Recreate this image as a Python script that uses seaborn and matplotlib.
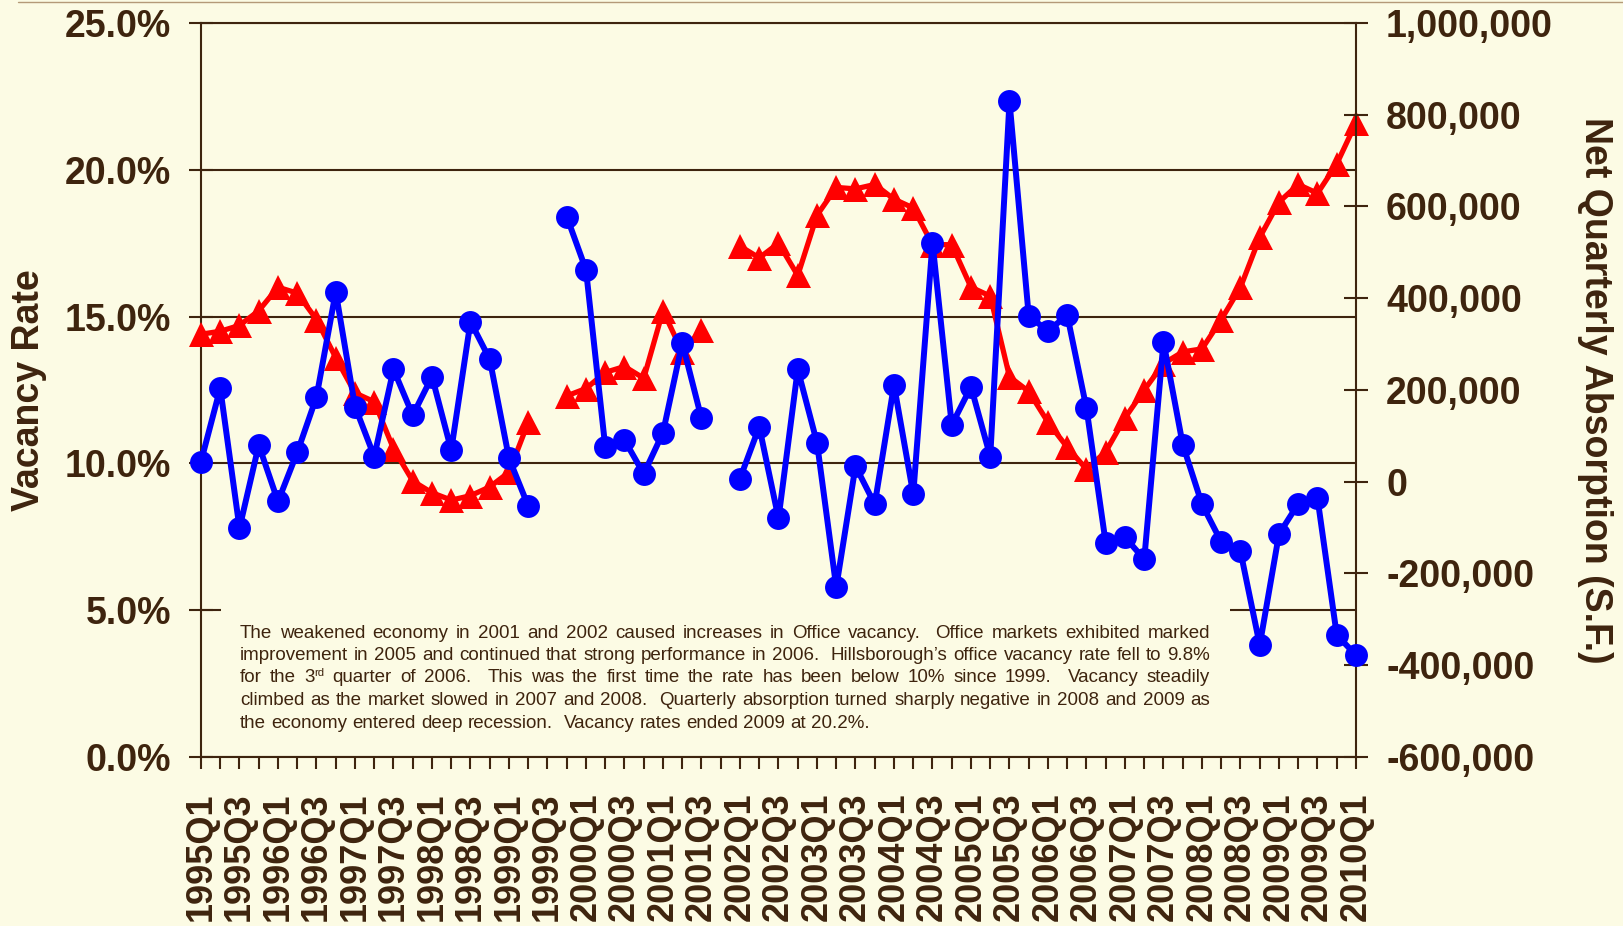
import numpy as np
import pandas as pd
import matplotlib
matplotlib.use("Agg")
import matplotlib.pyplot as plt
import seaborn as sns
from matplotlib.lines import Line2D
from matplotlib.patches import Rectangle

# ---------------- data ----------------
quarters = [f"{y}Q{q}" for y in range(1995, 2011) for q in (1, 2, 3, 4)][:61]
nan = np.nan
vacancy_rate = [
    14.4, 14.5, 14.7, 15.2, 16.0, 15.8, 14.9, 13.6, 12.4, 12.1, 10.5, 9.4, 9.0, 8.75, 8.9, 9.2, 9.7, 11.4,
    nan,
    12.3, 12.55, 13.1, 13.3, 12.9, 15.2, 13.8, 14.55,
    nan,
    17.4, 17.0, 17.5, 16.4, 18.45, 19.4, 19.35, 19.5, 19.0, 18.7, 17.45, 17.45, 16.0, 15.7,
    12.95, 12.45, 11.4, 10.55, 9.8, 10.4, 11.55, 12.5, 13.4, 13.8, 13.9, 14.9, 16.0, 17.7,
    18.9, 19.5, 19.2, 20.2, 21.6,
]
net_absorption = [
    44000, 204000, -101000, 80000, -43000, 64000, 185000, 414000, 164000, 55000, 245000,
    145000, 229000, 69000, 349000, 267000, 51000, -53000,
    nan,
    578000, 462000, 76000, 91000, 17000, 107000, 303000, 138000,
    nan,
    7000, 120000, -80000, 245000, 85000, -230000, 34000, -49000, 211000, -27000, 521000,
    124000, 207000, 55000, 829000, 361000, 329000, 363000, 160000, -134000, -121000, -169000,
    305000, 81000, -49000, -131000, -152000, -356000, -114000, -48000, -36000, -334000, -378000,
]
left_ticks = [0, 5, 10, 15, 20, 25]
left_tick_labels = ["0.0%", "5.0%", "10.0%", "15.0%", "20.0%", "25.0%"]
right_ticks = [-600000, -400000, -200000, 0, 200000, 400000, 600000, 800000, 1000000]
right_tick_labels = ["-600,000", "-400,000", "-200,000", "0", "200,000", "400,000",
                     "600,000", "800,000", "1,000,000"]
left_label = "Vacancy Rate"
right_label = "Net Quarterly Absorption (S.F.)"
note_lines = [
    "The weakened economy in 2001 and 2002 caused increases in Office vacancy.  Office markets exhibited marked",
    "improvement in 2005 and continued that strong performance in 2006.  Hillsborough\u2019s office vacancy rate fell to 9.8%",
    "for the 3rd quarter of 2006.  This was the first time the rate has been below 10% since 1999.  Vacancy steadily",
    "climbed as the market slowed in 2007 and 2008.  Quarterly absorption turned sharply negative in 2008 and 2009 as",
    "the economy entered deep recession.  Vacancy rates ended 2009 at 20.2%.",
]

# ---------------- style ----------------
BG = "#FCFBE4"
INK = "#3E240E"
RED = "#FF0000"
BLUE = "#0000FF"

sns.set_theme(style="ticks")
plt.rcParams["font.family"] = ["Liberation Sans", "DejaVu Sans"]
plt.rcParams["axes.edgecolor"] = INK
plt.rcParams["text.color"] = INK

W, H = 1624, 926
fig = plt.figure(figsize=(W / 100, H / 100), dpi=100, facecolor=BG)

x0, x1 = 201, 1356
y_top, y_bot = 23, 757
ax = fig.add_axes([x0 / W, 1 - y_bot / H, (x1 - x0) / W, (y_bot - y_top) / H])
ax.set_facecolor(BG)
ax2 = ax.twinx()

idx = np.arange(len(quarters))
df = pd.DataFrame({
    "i": idx,
    "vac": vacancy_rate,
    "absorb": net_absorption,
    "seg": np.cumsum(np.isnan(np.array(vacancy_rate, dtype=float))),
})
dfv = df.dropna()

sns.lineplot(data=dfv, x="i", y="vac", units="seg", estimator=None, color=RED,
             linewidth=3.8, marker="^", markersize=18, markeredgewidth=0,
             clip_on=False, zorder=3, ax=ax, legend=False)
sns.lineplot(data=dfv, x="i", y="absorb", units="seg", estimator=None, color=BLUE,
             linewidth=4.3, marker="o", markersize=16.5, markeredgewidth=0,
             clip_on=False, zorder=3, ax=ax2, legend=False)

# axes limits / ticks
ax.set_xlim(0, 60)
ax.set_ylim(0, 25)
ax2.set_ylim(-600000, 1000000)
ax.set_xlabel("")
ax.set_ylabel("")
ax2.set_ylabel("")

ax.set_xticks(idx)
ax.set_xticklabels([q if k % 2 == 0 else "" for k, q in enumerate(quarters)],
                   rotation=90, fontsize=26, fontweight="bold", color=INK)
ax.tick_params(axis="x", direction="out", length=8.6, width=1.5, color=INK, pad=17)

ax.set_yticks(left_ticks)
ax.set_yticklabels(left_tick_labels, fontsize=27, fontweight="bold", color=INK)
ax.tick_params(axis="y", direction="inout", length=17.3, width=1.5, color=INK, pad=13)

ax2.set_yticks(right_ticks)
ax2.set_yticklabels(right_tick_labels, fontsize=27, fontweight="bold", color=INK)
ax2.tick_params(axis="y", direction="inout", length=17.3, width=1.5, color=INK, pad=13)

ax.grid(axis="y", color=INK, linewidth=1.5)
ax.grid(axis="x", visible=False)
ax.set_axisbelow(True)
for name, sp in ax.spines.items():
    sp.set_color(INK)
    sp.set_linewidth(1.5)
    sp.set_visible(name != "right")
for name, sp in ax2.spines.items():
    sp.set_color(INK)
    sp.set_linewidth(1.5)
    sp.set_visible(name == "right")

# note box (covers the 5% gridline)
ax.add_patch(Rectangle((20 / 1155, 0.03), (1230 - 221) / 1155, 0.185,
                       transform=ax.transAxes, facecolor=BG, edgecolor="none", zorder=1))

# axis titles
fig.text(29.5 / W, 1 - 390 / H, left_label, rotation=90, ha="center", va="center",
         fontsize=27, fontweight="bold", color=INK)
fig.text(1595 / W, 1 - 390 / H, right_label, rotation=270, ha="center", va="center",
         fontsize=27, fontweight="bold", color=INK)

# thin top rule
fig.add_artist(Line2D([18 / W, 1.0], [1 - 1.5 / H] * 2, color="#B49A78", linewidth=1.0))

# ---------------- justified note text ----------------
fig.canvas.draw()
renderer = fig.canvas.get_renderer()
FS = 13.5
SUP = FS * 0.6


def text_width(s, size):
    t = fig.text(0, 0, s, fontsize=size)
    w = t.get_window_extent(renderer).width
    t.remove()
    return w


space_w = text_width("a a", FS) - text_width("aa", FS)


def word_width(w):
    if w == "3rd":
        return text_width("3", FS) + text_width("rd", SUP)
    return text_width(w, FS)


def draw_word(w, xpx, ypx):
    yf = 1 - ypx / H
    if w == "3rd":
        w3 = text_width("3", FS)
        fig.text(xpx / W, yf, "3", fontsize=FS, color=INK, va="baseline")
        fig.text((xpx + w3) / W, yf + 6.5 / H, "rd", fontsize=SUP, color=INK, va="baseline")
    else:
        fig.text(xpx / W, yf, w, fontsize=FS, color=INK, va="baseline")


left_px, right_px = 240, 1210
base0, lead = 637.5, 22.5
for k, line in enumerate(note_lines):
    tokens = line.split(" ")
    words = [t for t in tokens if t]
    n_spaces = len(tokens) - 1
    natural = sum(word_width(w) for w in words) + n_spaces * space_w
    if k < len(note_lines) - 1 and n_spaces > 0:
        gap = space_w + (right_px - left_px - natural) / n_spaces
    else:
        gap = space_w
    x = left_px
    y = base0 + k * lead
    for j, t in enumerate(tokens):
        if t:
            draw_word(t, x, y)
            x += word_width(t)
        if j < len(tokens) - 1:
            x += gap

fig.savefig("out.png", dpi=100, facecolor=BG)
